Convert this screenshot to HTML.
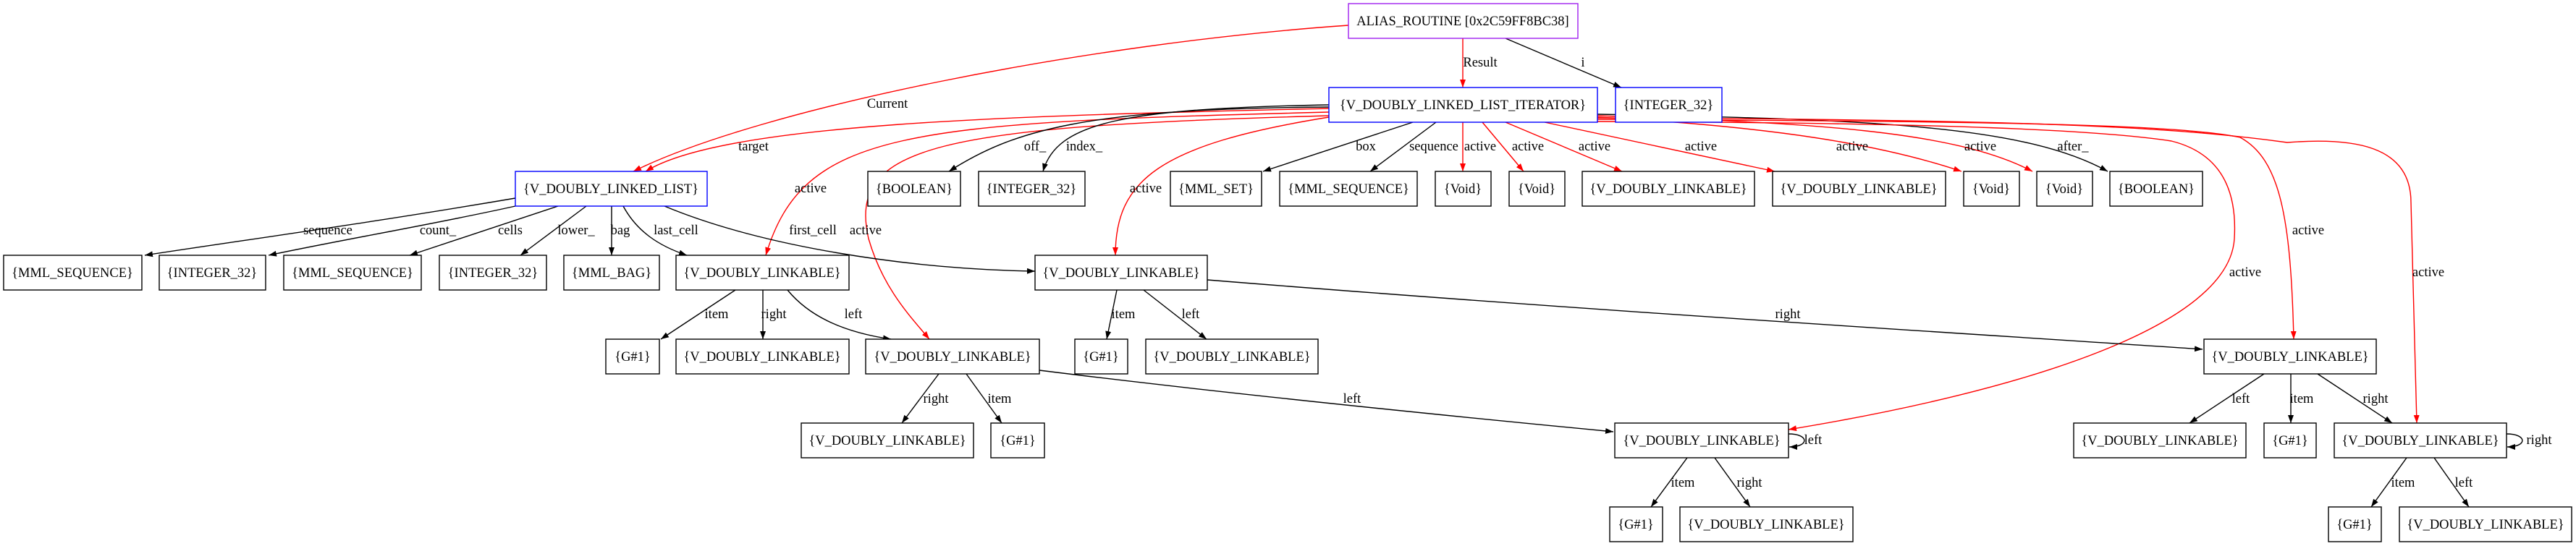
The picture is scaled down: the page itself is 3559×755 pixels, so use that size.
<!DOCTYPE html>
<html><head><meta charset="utf-8"><style>
html,body{margin:0;padding:0;background:#fff}
svg{display:block}
text{font-family:"Liberation Serif",serif;font-size:18.5px;fill:#000}
.n{text-anchor:middle}
.l{text-anchor:middle}
rect{fill:#fff;stroke:#000;stroke-width:1.4}
.b{stroke:#0000ff}
.p{stroke:#a020f0}
path.k{fill:none;stroke:#000;stroke-width:1.4}
path.r{fill:none;stroke:#ff0000;stroke-width:1.4}
</style></head><body>
<svg width="3559" height="755" viewBox="0 0 3559 755" xmlns="http://www.w3.org/2000/svg">
<defs>
<marker id="ak" markerUnits="userSpaceOnUse" markerWidth="12" markerHeight="9" refX="11" refY="4" orient="auto"><path d="M0,0 L11,4 L0,8 z" fill="#000"/></marker>
<marker id="ar" markerUnits="userSpaceOnUse" markerWidth="12" markerHeight="9" refX="11" refY="4" orient="auto"><path d="M0,0 L11,4 L0,8 z" fill="#f00"/></marker>
</defs>

<!-- edges -->
<g>
<path class="r" marker-end="url(#ar)" d="M1863,35 C1500,60 1050,150 875,237"/>
<path class="r" marker-end="url(#ar)" d="M2021,53 L2021,121"/>
<path class="k" marker-end="url(#ak)" d="M2080,53 L2240,121"/>

<path class="r" marker-end="url(#ar)" d="M1836,150 C1400,160 1000,170 892,237"/>
<path class="r" marker-end="url(#ar)" d="M1836,155 C1250,170 1110,180 1058,353"/>
<path class="r" marker-end="url(#ar)" d="M1836,160 C1300,175 1170,200 1200,330 C1220,400 1260,440 1284,469"/>
<path class="k" marker-end="url(#ak)" d="M1836,148 C1500,150 1400,180 1311,237"/>
<path class="k" marker-end="url(#ak)" d="M1836,145 C1550,150 1460,170 1441,237"/>
<path class="r" marker-end="url(#ar)" d="M1836,162 C1600,200 1541,250 1541,353"/>
<path class="k" marker-end="url(#ak)" d="M1952,169 L1745,237"/>
<path class="k" marker-end="url(#ak)" d="M1984,169 L1893,237"/>
<path class="r" marker-end="url(#ar)" d="M2021,169 L2021,237"/>
<path class="r" marker-end="url(#ar)" d="M2048,169 L2105,237"/>
<path class="r" marker-end="url(#ar)" d="M2080,169 L2241,237"/>
<path class="r" marker-end="url(#ar)" d="M2134,169 L2452,237"/>
<path class="r" marker-end="url(#ar)" d="M2207,162 C2450,175 2600,200 2710,237"/>
<path class="r" marker-end="url(#ar)" d="M2207,160 C2500,170 2700,180 2808,237"/>
<path class="k" marker-end="url(#ak)" d="M2207,158 C2600,165 2800,175 2912,237"/>
<path class="r" marker-end="url(#ar)" d="M2207,168 C2700,170 2900,180 3000,195 C3080,215 3090,280 3087,330 C3080,450 2800,540 2471,594"/>
<path class="r" marker-end="url(#ar)" d="M2207,165 C2700,168 3000,170 3095,190 C3150,220 3165,300 3169,469"/>
<path class="r" marker-end="url(#ar)" d="M2207,163 C2800,165 3000,175 3160,197 C3250,190 3331,200 3331,280 L3339,585"/>

<path class="k" marker-end="url(#ak)" d="M712,274 C500,310 350,330 200,353"/>
<path class="k" marker-end="url(#ak)" d="M712,285 C600,310 480,330 371,353"/>
<path class="k" marker-end="url(#ak)" d="M771,285 L566,353"/>
<path class="k" marker-end="url(#ak)" d="M810,285 L719,353"/>
<path class="k" marker-end="url(#ak)" d="M845,285 L845,353"/>
<path class="k" marker-end="url(#ak)" d="M861,285 C880,320 910,340 949,353"/>
<path class="k" marker-end="url(#ak)" d="M918,285 C1050,340 1250,372 1430,375"/>

<path class="k" marker-end="url(#ak)" d="M1016,401 L913,469"/>
<path class="k" marker-end="url(#ak)" d="M1054,401 L1054,469"/>
<path class="k" marker-end="url(#ak)" d="M1088,401 C1120,440 1170,460 1231,469"/>

<path class="k" marker-end="url(#ak)" d="M1543,401 L1529,469"/>
<path class="k" marker-end="url(#ak)" d="M1580,401 L1667,469"/>
<path class="k" marker-end="url(#ak)" d="M1668,387 C2200,430 2700,460 3043,483"/>

<path class="k" marker-end="url(#ak)" d="M1297,517 L1246,585"/>
<path class="k" marker-end="url(#ak)" d="M1335,517 L1384,585"/>
<path class="k" marker-end="url(#ak)" d="M1436,512 C1700,545 2000,575 2229,597"/>

<path class="k" marker-end="url(#ak)" d="M2331,633 L2281,701"/>
<path class="k" marker-end="url(#ak)" d="M2369,633 L2418,701"/>
<path class="k" marker-end="url(#ak)" d="M2471,600 C2500,600 2500,618 2472,618"/>

<path class="k" marker-end="url(#ak)" d="M3128,517 L3025,585"/>
<path class="k" marker-end="url(#ak)" d="M3165,517 L3165,585"/>
<path class="k" marker-end="url(#ak)" d="M3202,517 L3305,585"/>

<path class="k" marker-end="url(#ak)" d="M3325,633 L3276,701"/>
<path class="k" marker-end="url(#ak)" d="M3363,633 L3411,701"/>
<path class="k" marker-end="url(#ak)" d="M3463,600 C3492,600 3492,618 3464,618"/>
</g>

<!-- edge labels -->
<g>
<text class="l" x="1226" y="149">Current</text>
<text class="l" x="2045" y="92">Result</text>
<text class="l" x="2187" y="92">i</text>
<text class="l" x="1041" y="208">target</text>
<text class="l" x="1120" y="266">active</text>
<text class="l" x="1196" y="324">active</text>
<text class="l" x="1430" y="208">off_</text>
<text class="l" x="1498" y="208">index_</text>
<text class="l" x="1583" y="266">active</text>
<text class="l" x="1887" y="208">box</text>
<text class="l" x="1981" y="208">sequence</text>
<text class="l" x="2045" y="208">active</text>
<text class="l" x="2111" y="208">active</text>
<text class="l" x="2203" y="208">active</text>
<text class="l" x="2350" y="208">active</text>
<text class="l" x="2559" y="208">active</text>
<text class="l" x="2736" y="208">active</text>
<text class="l" x="2864" y="208">after_</text>
<text class="l" x="3189" y="324">active</text>
<text class="l" x="3102" y="382">active</text>
<text class="l" x="3355" y="382">active</text>

<text class="l" x="453" y="324">sequence</text>
<text class="l" x="605" y="324">count_</text>
<text class="l" x="705" y="324">cells</text>
<text class="l" x="796" y="324">lower_</text>
<text class="l" x="857" y="324">bag</text>
<text class="l" x="934" y="324">last_cell</text>
<text class="l" x="1123" y="324">first_cell</text>

<text class="l" x="990" y="440">item</text>
<text class="l" x="1069" y="440">right</text>
<text class="l" x="1179" y="440">left</text>
<text class="l" x="1552" y="440">item</text>
<text class="l" x="1645" y="440">left</text>
<text class="l" x="2470" y="440">right</text>

<text class="l" x="1293" y="557">right</text>
<text class="l" x="1381" y="557">item</text>
<text class="l" x="1868" y="557">left</text>
<text class="l" x="3096" y="557">left</text>
<text class="l" x="3180" y="557">item</text>
<text class="l" x="3282" y="557">right</text>
<text class="l" x="2505" y="614">left</text>
<text class="l" x="3508" y="614">right</text>

<text class="l" x="2325" y="673">item</text>
<text class="l" x="2417" y="673">right</text>
<text class="l" x="3320" y="673">item</text>
<text class="l" x="3404" y="673">left</text>
</g>

<!-- nodes -->
<g>
<rect class="p" x="1863" y="5" width="317" height="48"/><text class="n" x="2021" y="35">ALIAS_ROUTINE [0x2C59FF8BC38]</text>
<rect class="b" x="1836" y="121" width="371" height="48"/><text class="n" x="2021" y="151">{V_DOUBLY_LINKED_LIST_ITERATOR}</text>
<rect class="b" x="2232" y="121" width="147" height="48"/><text class="n" x="2305" y="151">{INTEGER_32}</text>

<rect class="b" x="712" y="237" width="265" height="48"/><text class="n" x="844" y="267">{V_DOUBLY_LINKED_LIST}</text>
<rect x="1199" y="237" width="128" height="48"/><text class="n" x="1263" y="267">{BOOLEAN}</text>
<rect x="1352" y="237" width="147" height="48"/><text class="n" x="1425" y="267">{INTEGER_32}</text>
<rect x="1617" y="237" width="126" height="48"/><text class="n" x="1680" y="267">{MML_SET}</text>
<rect x="1768" y="237" width="190" height="48"/><text class="n" x="1863" y="267">{MML_SEQUENCE}</text>
<rect x="1983" y="237" width="77" height="48"/><text class="n" x="2021" y="267">{Void}</text>
<rect x="2085" y="237" width="77" height="48"/><text class="n" x="2123" y="267">{Void}</text>
<rect x="2186" y="237" width="238" height="48"/><text class="n" x="2305" y="267">{V_DOUBLY_LINKABLE}</text>
<rect x="2449" y="237" width="239" height="48"/><text class="n" x="2568" y="267">{V_DOUBLY_LINKABLE}</text>
<rect x="2713" y="237" width="77" height="48"/><text class="n" x="2751" y="267">{Void}</text>
<rect x="2814" y="237" width="77" height="48"/><text class="n" x="2852" y="267">{Void}</text>
<rect x="2915" y="237" width="128" height="48"/><text class="n" x="2979" y="267">{BOOLEAN}</text>

<rect x="5" y="353" width="191" height="48"/><text class="n" x="100" y="383">{MML_SEQUENCE}</text>
<rect x="220" y="353" width="147" height="48"/><text class="n" x="293" y="383">{INTEGER_32}</text>
<rect x="392" y="353" width="190" height="48"/><text class="n" x="487" y="383">{MML_SEQUENCE}</text>
<rect x="607" y="353" width="148" height="48"/><text class="n" x="681" y="383">{INTEGER_32}</text>
<rect x="779" y="353" width="132" height="48"/><text class="n" x="845" y="383">{MML_BAG}</text>
<rect x="934" y="353" width="239" height="48"/><text class="n" x="1053" y="383">{V_DOUBLY_LINKABLE}</text>
<rect x="1430" y="353" width="238" height="48"/><text class="n" x="1549" y="383">{V_DOUBLY_LINKABLE}</text>

<rect x="837" y="469" width="74" height="48"/><text class="n" x="874" y="499">{G#1}</text>
<rect x="934" y="469" width="239" height="48"/><text class="n" x="1053" y="499">{V_DOUBLY_LINKABLE}</text>
<rect x="1196" y="469" width="240" height="48"/><text class="n" x="1316" y="499">{V_DOUBLY_LINKABLE}</text>
<rect x="1485" y="469" width="73" height="48"/><text class="n" x="1521" y="499">{G#1}</text>
<rect x="1583" y="469" width="238" height="48"/><text class="n" x="1702" y="499">{V_DOUBLY_LINKABLE}</text>
<rect x="3045" y="469" width="238" height="48"/><text class="n" x="3164" y="499">{V_DOUBLY_LINKABLE}</text>

<rect x="1107" y="585" width="238" height="48"/><text class="n" x="1226" y="615">{V_DOUBLY_LINKABLE}</text>
<rect x="1369" y="585" width="74" height="48"/><text class="n" x="1406" y="615">{G#1}</text>
<rect x="2231" y="585" width="240" height="48"/><text class="n" x="2351" y="615">{V_DOUBLY_LINKABLE}</text>
<rect x="2865" y="585" width="238" height="48"/><text class="n" x="2984" y="615">{V_DOUBLY_LINKABLE}</text>
<rect x="3128" y="585" width="72" height="48"/><text class="n" x="3164" y="615">{G#1}</text>
<rect x="3225" y="585" width="238" height="48"/><text class="n" x="3344" y="615">{V_DOUBLY_LINKABLE}</text>

<rect x="2224" y="701" width="73" height="48"/><text class="n" x="2260" y="731">{G#1}</text>
<rect x="2321" y="701" width="239" height="48"/><text class="n" x="2440" y="731">{V_DOUBLY_LINKABLE}</text>
<rect x="3217" y="701" width="73" height="48"/><text class="n" x="3253" y="731">{G#1}</text>
<rect x="3315" y="701" width="238" height="48"/><text class="n" x="3434" y="731">{V_DOUBLY_LINKABLE}</text>
</g>
</svg>
</body></html>
